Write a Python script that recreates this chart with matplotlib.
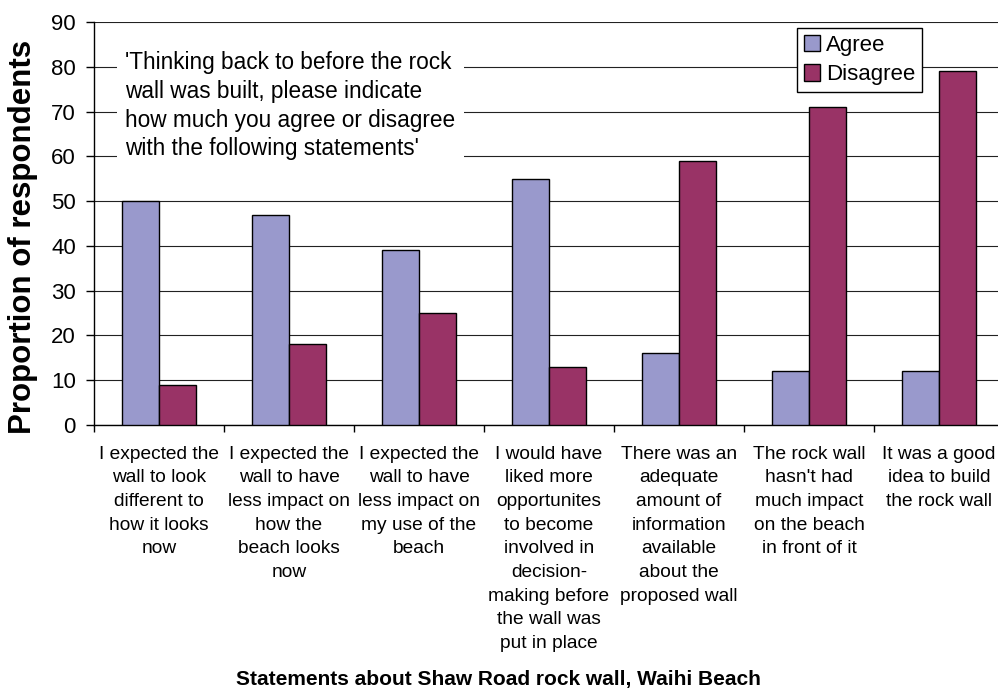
import matplotlib
matplotlib.use("Agg")
import matplotlib.pyplot as plt
import numpy as np

plt.rcParams['font.family'] = ['Liberation Sans', 'DejaVu Sans']

statements = [
    "I expected the\nwall to look\ndifferent to\nhow it looks\nnow",
    "I expected the\nwall to have\nless impact on\nhow the\nbeach looks\nnow",
    "I expected the\nwall to have\nless impact on\nmy use of the\nbeach",
    "I would have\nliked more\nopportunites\nto become\ninvolved in\ndecision-\nmaking before\nthe wall was\nput in place",
    "There was an\nadequate\namount of\ninformation\navailable\nabout the\nproposed wall",
    "The rock wall\nhasn't had\nmuch impact\non the beach\nin front of it",
    "It was a good\nidea to build\nthe rock wall",
]
agree = [50, 47, 39, 55, 16, 12, 12]
disagree = [9, 18, 25, 13, 59, 71, 79]
yticks = [0, 10, 20, 30, 40, 50, 60, 70, 80, 90]

fig = plt.figure(figsize=(9.98, 6.91), dpi=100)
# plot area runs slightly past the right edge of the figure
ax = fig.add_axes([94 / 998, 266 / 691, 910 / 998, 403 / 691])

x = np.arange(len(statements))
w = 0.2857
ax.bar(x - w / 2, agree, w, color='#9999CC', edgecolor='black', linewidth=1.0,
       label='Agree', zorder=3)
ax.bar(x + w / 2, disagree, w, color='#993366', edgecolor='black', linewidth=1.0,
       label='Disagree', zorder=3)

ax.set_xlim(-0.5, len(statements) - 0.5)
ax.set_ylim(0, 90)
ax.set_yticks(yticks)
ax.yaxis.grid(True, color='#222222', linewidth=0.8, zorder=0)
ax.set_axisbelow(True)

ax.spines['top'].set_visible(False)
ax.spines['right'].set_visible(False)
for s in ('left', 'bottom'):
    ax.spines[s].set_linewidth(1.0)

ax.set_xticks(x)
ax.set_xticklabels(statements, fontsize=13.8, linespacing=1.51)
ax.tick_params(axis='x', which='major', length=0, pad=15)
ax.set_xticks(np.arange(len(statements) + 1) - 0.5, minor=True)
ax.tick_params(axis='x', which='minor', length=5, width=1.0, direction='out')
ax.tick_params(axis='y', length=6, width=1.0, labelsize=16, pad=7)

fig.text(23 / 998, 1 - 237 / 691, 'Proportion of respondents', rotation=90,
         ha='center', va='center', fontsize=22.5, fontweight='bold')
fig.text(498 / 998, 1 - 680 / 691, 'Statements about Shaw Road rock wall, Waihi Beach',
         ha='center', va='center', fontsize=15, fontweight='bold')

ax.text(125 / 998, 1 - 51 / 691,
        "'Thinking back to before the rock\nwall was built, please indicate\n"
        "how much you agree or disagree\nwith the following statements'",
        transform=fig.transFigure, ha='left', va='top', fontsize=16.3, linespacing=1.32,
        bbox=dict(facecolor='white', edgecolor='none', pad=6), zorder=4)

leg = ax.legend(loc='upper left', bbox_to_anchor=(797 / 998, 1 - 28 / 691),
                bbox_transform=fig.transFigure, borderaxespad=0, fontsize=16,
                frameon=True, fancybox=False, framealpha=1, edgecolor='black',
                handlelength=0.75, handleheight=0.75, handletextpad=0.25,
                borderpad=0.3, labelspacing=0.38)
leg.get_frame().set_linewidth(1.0)
leg.set_zorder(5)

fig.savefig('out.png', dpi=100)
